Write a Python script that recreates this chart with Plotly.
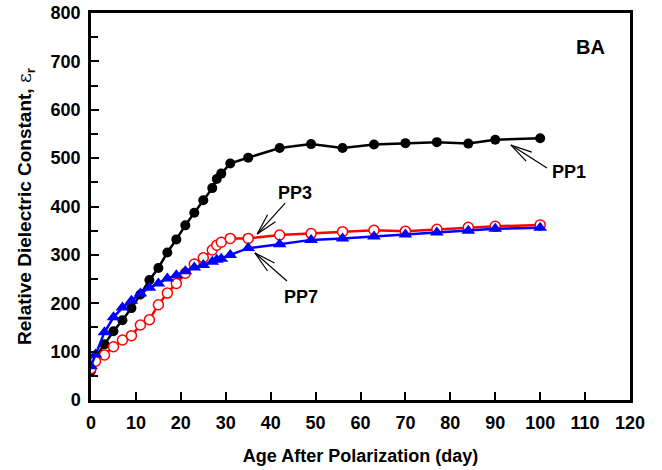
import math
import plotly.graph_objects as go

# Ageing of relative dielectric constant after poling (BA samples)
days = [0, 1, 3, 5, 7, 9, 11, 13, 15, 17, 19, 21, 23, 25, 27, 28, 29, 31,
        35, 42, 49, 56, 63, 70, 77, 84, 90, 100]
pp1 = [60, 88, 115, 142, 165, 190, 218, 248, 273, 305, 332, 361, 387, 413,
       438, 457, 468, 489, 501, 521, 529, 521, 528, 531, 533, 530, 538, 541]
pp3 = [65, 80, 93, 110, 124, 133, 155, 166, 197, 221, 241, 262, 281, 294,
       310, 320, 326, 334, 334, 341, 344, 348, 351, 349, 353, 357, 359, 362]
pp7 = [70, 94, 140, 171, 191, 205, 220, 232, 241, 251, 258, 266, 274, 279,
       286, 290, 292, 300, 314, 322, 331, 334, 338, 342, 346, 350, 354, 356]

FONT = "Arial, Liberation Sans, sans-serif"
X_RANGE = [0, 120]
Y_RANGE = [0, 800]
W, H = 662, 470
M = dict(l=91, r=32, t=13, b=70)

# pixels per data unit, used to size the pointer arrows
PX_X = (W - M["l"] - M["r"]) / (X_RANGE[1] - X_RANGE[0])
PX_Y = (H - M["t"] - M["b"]) / (Y_RANGE[1] - Y_RANGE[0])

fig = go.Figure()
fig.add_trace(go.Scatter(
    x=days, y=pp1, mode="lines+markers", name="PP1",
    line=dict(color="black", width=2.5),
    marker=dict(symbol="circle", size=10, color="black"),
))
fig.add_trace(go.Scatter(
    x=days, y=pp3, mode="lines+markers", name="PP3",
    line=dict(color="#ff0000", width=2.5),
    marker=dict(symbol="circle", size=10, color="white",
                line=dict(width=1.5, color="#ff0000")),
))
fig.add_trace(go.Scatter(
    x=days, y=pp7, mode="lines+markers", name="PP7",
    line=dict(color="#0000ff", width=2.5),
    marker=dict(symbol="triangle-up", size=12, color="#0000ff"),
))

shapes = []


def pointer(tip_x, tip_y, dx, dy, barb_len=22, barb_deg=14):
    """Thin open-V arrow pointing at (tip_x, tip_y); (dx, dy) is the shaft in px (y down)."""
    def seg(px, py):
        shapes.append(dict(type="line", xref="x", yref="y",
                           x0=tip_x, y0=tip_y,
                           x1=tip_x + px / PX_X, y1=tip_y - py / PX_Y,
                           line=dict(color="black", width=1.2)))
    seg(dx, dy)
    ang = math.atan2(dy, dx)
    for s in (-1, 1):
        a = ang + s * math.radians(barb_deg)
        seg(barb_len * math.cos(a), barb_len * math.sin(a))


pointer(93.5, 527, 36, 23)
pointer(37.0, 343, 28, -31)
pointer(36.5, 304, 32, 28)

annotations = []
label_font = dict(family=FONT, size=18, color="black", weight="bold")
for txt, lx, ly in [("PP1", 106.4, 471), ("PP3", 45.4, 428), ("PP7", 46.8, 213)]:
    annotations.append(dict(x=lx, y=ly, xref="x", yref="y", text=txt,
                            showarrow=False, font=label_font))
annotations.append(dict(x=111.3, y=730, xref="x", yref="y", text="BA",
                        showarrow=False,
                        font=dict(family=FONT, size=20, color="black", weight="bold")))

tick_font = dict(family=FONT, size=18, color="black", weight="bold")
x_title_font = dict(family=FONT, size=18, color="black", weight="bold")
y_title_font = dict(family=FONT, size=19, color="black", weight="bold")

fig.update_layout(
    width=W, height=H,
    margin=M,
    paper_bgcolor="white", plot_bgcolor="white",
    showlegend=False,
    annotations=annotations,
    shapes=shapes,
    xaxis=dict(
        range=X_RANGE, dtick=10, tick0=0, automargin=False,
        showgrid=False, zeroline=False,
        showline=True, linewidth=2.5, linecolor="black", mirror=True,
        ticks="inside", ticklen=8, tickwidth=2, tickcolor="black",
        tickfont=tick_font, ticklabelstandoff=5,
        title=dict(text="Age After Polarization (day)", font=x_title_font, standoff=18),
    ),
    yaxis=dict(
        range=Y_RANGE, dtick=100, tick0=0, automargin=False,
        showgrid=False, zeroline=False,
        showline=True, linewidth=2.5, linecolor="black", mirror=True,
        ticks="inside", ticklen=8, tickwidth=2, tickcolor="black",
        minor=dict(dtick=50, ticks="inside", ticklen=7, tickwidth=2,
                   tickcolor="black", showgrid=False),
        tickfont=tick_font, ticklabelstandoff=4,
        title=dict(
            text="Relative Dielectric Constant, "
                 "<span style=\"font-family:DejaVu Serif;font-weight:normal\">ε</span>"
                 "<sub>r</sub>",
            font=y_title_font, standoff=14),
    ),
)

fig.write_html("out.html")
